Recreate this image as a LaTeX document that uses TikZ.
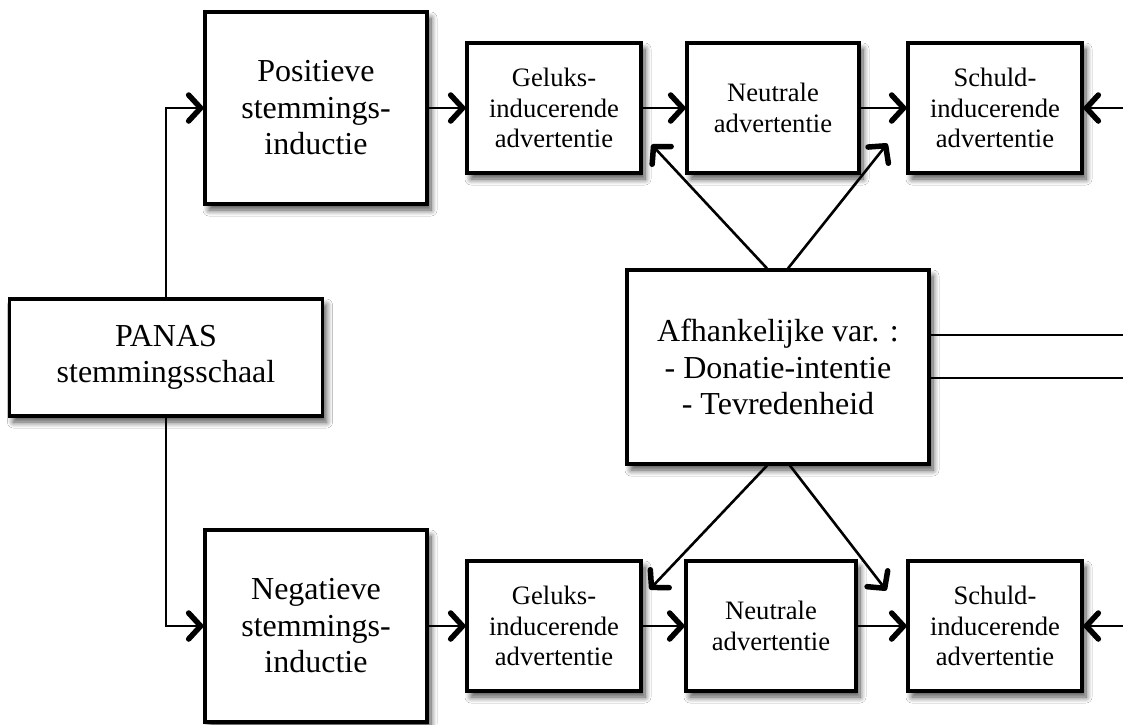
\documentclass[tikz,border=0pt]{standalone}
\usepackage{fontspec}
\setmainfont{Liberation Serif}
\usetikzlibrary{arrows.meta,shadows.blur,calc}
\begin{document}
\begin{tikzpicture}[x=1pt,y=1pt,
  boxbase/.style={draw=black, line width=3.2pt, fill=white, inner sep=0pt, align=center,
    blur shadow={shadow xshift=4pt, shadow yshift=-6pt, shadow blur radius=6pt, shadow opacity=70, shadow blur steps=10}},
  bigbox/.style={boxbase, font=\fontsize{32}{36.5}\selectfont},
  smallbox/.style={boxbase, font=\fontsize{26.6}{30.5}\selectfont, minimum width=174pt, minimum height=130pt},
  arr/.style={line width=2.6pt, -{Straight Barb[length=12pt,width=26pt,line width=5.5pt,round]}},
  ln/.style={line width=2.6pt}]
\useasboundingbox (0,0) rectangle (1123,-724);
\fill[white] (0,0) rectangle (1123,-724);

\node[bigbox, minimum width=222pt, minimum height=192pt] (pos) at (316,-108) {Positieve\\stemmings-\\inductie};
\node[bigbox, minimum width=222pt, minimum height=192pt] (neg) at (316,-626) {Negatieve\\stemmings-\\inductie};
\node[bigbox, minimum width=313pt, minimum height=117pt] (panas) at (166,-357.5) {PANAS\\stemmingsschaal};
\node[bigbox, minimum width=302pt, minimum height=194pt] (afh) at (778,-367) {Afhankelijke var. :\\- Donatie-intentie\\- Tevredenheid};

\node[smallbox] (g1) at (554,-108) {Geluks-\\inducerende\\advertentie};
\node[smallbox, minimum width=172pt] (n1) at (773,-108) {Neutrale\\advertentie};
\node[smallbox] (s1) at (995,-108) {Schuld-\\inducerende\\advertentie};
\node[smallbox] (g2) at (554,-626) {Geluks-\\inducerende\\advertentie};
\node[smallbox, minimum width=170pt] (n2) at (771,-626) {Neutrale\\advertentie};
\node[smallbox] (s2) at (995,-626) {Schuld-\\inducerende\\advertentie};

\coordinate (r1) at (1125,-108);
\coordinate (r2) at (1125,-626);
\coordinate (ra) at (1125,-335);
\coordinate (rb) at (1125,-378);

\draw[arr] (panas.north) |- (pos.west);
\draw[arr] (panas.south) |- (neg.west);
\draw[arr] (pos.east) -- (g1.west);
\draw[arr] (g1.east) -- (n1.west);
\draw[arr] (n1.east) -- (s1.west);
\draw[arr] (neg.east) -- (g2.west);
\draw[arr] (g2.east) -- (n2.west);
\draw[arr] (n2.east) -- (s2.west);
\draw[arr] (r1) -- (s1.east);
\draw[arr] (r2) -- (s2.east);

\draw[arr] ($(afh.north)+(-11,0)$) -- ($(g1.south east)+(9,30)$);
\draw[arr] ($(afh.north)+(10,0)$) -- ($(s1.south west)+(-19,31)$);
\draw[arr] ($(afh.south)+(-11,0)$) -- ($(g2.north east)+(7,-30)$);
\draw[arr] ($(afh.south)+(12,0)$) -- ($(s2.north west)+(-20,-31)$);

\draw[ln] (afh.east |- ra) -- (ra);
\draw[ln] (afh.east |- rb) -- (rb);
\end{tikzpicture}
\end{document}
